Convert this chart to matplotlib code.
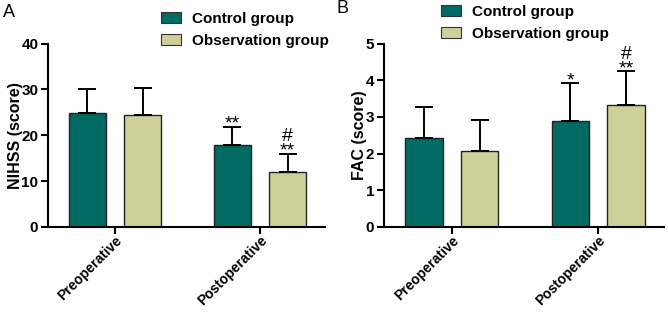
import matplotlib
matplotlib.use("Agg")
import matplotlib.pyplot as plt
import matplotlib.transforms as mtrans
import numpy as np
from matplotlib.patches import Patch

plt.rcParams['font.family'] = ['Liberation Sans', 'DejaVu Sans']
plt.rcParams['font.weight'] = 'bold'

categories = ["Preoperative", "Postoperative"]
series_names = ["Control group", "Observation group"]

nihss_control = [24.8, 17.8]
nihss_control_sd = [5.2, 4.0]
nihss_obs = [24.5, 12.0]
nihss_obs_sd = [5.9, 4.0]
nihss_marks_control = ["", "**"]
nihss_marks_obs = ["", "#\n**"]

fac_control = [2.42, 2.88]
fac_control_sd = [0.86, 1.04]
fac_obs = [2.08, 3.33]
fac_obs_sd = [0.84, 0.91]
fac_marks_control = ["", "*"]
fac_marks_obs = ["", "#\n**"]

colors = ["#006A63", "#CFCF9A"]

fig = plt.figure(figsize=(6.68, 3.12), dpi=100)
axA = fig.add_axes([48/668, 1-227/312, 277/668, (227-43.5)/312])
axB = fig.add_axes([384/668, 1-227/312, 280/668, (227-43.5)/312])


def draw(ax, ctrl, ctrl_sd, obs, obs_sd, mk_c, mk_o, ymax, ystep, ylabel, off):
    x = np.arange(len(categories))
    w = 0.255
    d = 0.19
    for vals, sds, col, sh, mks in [(ctrl, ctrl_sd, colors[0], -d, mk_c), (obs, obs_sd, colors[1], d, mk_o)]:
        ax.bar(x + sh, vals, width=w, color=col, edgecolor="#222222", linewidth=1.0, zorder=2)
        ax.errorbar(x + sh, vals, yerr=[np.zeros(len(vals)), sds], fmt="none", ecolor="black",
                    elinewidth=1.4, capsize=6.5, capthick=1.4, zorder=3)
        for xi, v, s, m in zip(x + sh, vals, sds, mks):
            if m:
                ax.text(xi, v + s + off, m, ha="center", va="bottom", fontsize=14,
                        fontweight="normal", linespacing=0.8)
    ax.set_xlim(-0.462, 1.448)
    ax.set_ylim(0, ymax)
    ax.set_yticks(np.arange(0, ymax + 0.001, ystep))
    ax.set_xticks(x)
    ax.set_xticklabels([])
    base = mtrans.blended_transform_factory(ax.transData, ax.transAxes)
    shift = mtrans.ScaledTranslation(0.05, -0.11, fig.dpi_scale_trans)
    for xi, c in zip(x, categories):
        ax.text(xi, 0, c, transform=base + shift, rotation=45, ha="right", va="center",
                rotation_mode="anchor", fontsize=10, fontweight="bold")
    for lab in ax.get_yticklabels():
        lab.set_fontsize(11)
        lab.set_fontweight("bold")
    ax.set_ylabel(ylabel, fontsize=11.5, fontweight="bold")
    for s in ["top", "right"]:
        ax.spines[s].set_visible(False)
    for s in ["left", "bottom"]:
        ax.spines[s].set_linewidth(1.5)
    ax.tick_params(axis="both", width=1.5, length=5, pad=2)


draw(axA, nihss_control, nihss_control_sd, nihss_obs, nihss_obs_sd,
     nihss_marks_control, nihss_marks_obs, 40, 10, "NIHSS (score)", -1.2)
draw(axB, fac_control, fac_control_sd, fac_obs, fac_obs_sd,
     fac_marks_control, fac_marks_obs, 5, 1, "FAC (score)", -0.16)
axA.yaxis.set_label_coords(-25/277, 0.5)
axB.yaxis.set_label_coords(-17/280, 0.5)

handles = [Patch(facecolor=colors[0], edgecolor="#333333", linewidth=0.8),
           Patch(facecolor=colors[1], edgecolor="#333333", linewidth=0.8)]
fig.legend(handles, series_names, loc="upper left", bbox_to_anchor=(147/668, 1+2/312),
           frameon=False, handlelength=1.3, handleheight=0.8,
           handletextpad=0.75, labelspacing=0.5, prop={"weight": "bold", "size": 11})
fig.legend(handles, series_names, loc="upper left", bbox_to_anchor=(427/668, 1+9/312),
           frameon=False, handlelength=1.3, handleheight=0.8,
           handletextpad=0.75, labelspacing=0.5, prop={"weight": "bold", "size": 11})

fig.text(3/668, 1-4/312, "A", fontsize=13, fontweight="normal", va="top", ha="left")
fig.text(336/668, 1-0/312, "B", fontsize=13, fontweight="normal", va="top", ha="left")

fig.savefig("out.png", dpi=100)
